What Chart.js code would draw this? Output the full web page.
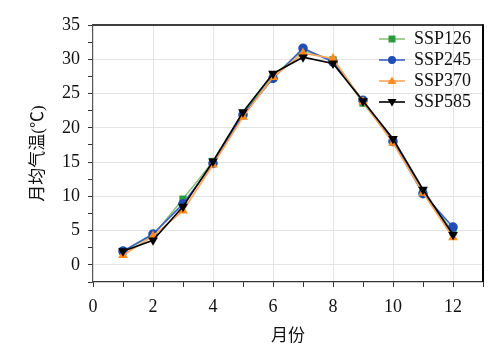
<!DOCTYPE html>
<html>
<head>
<meta charset="utf-8">
<script src="https://cdn.jsdelivr.net/npm/chart.js@4"></script>
<style>
  html, body { margin: 0; padding: 0; background: #fff; }
  #wrap { width: 492px; height: 354px; }
  .preload { position: absolute; left: -999px; top: 0; font-family: 'Liberation Serif'; font-size: 18px; }
</style>
</head>
<body>
<div class="preload">SSP126 0123456789</div>
<div id="wrap"><canvas id="chart-temp" width="492" height="354"></canvas></div>
<script>
// 月均气温 - four SSP scenarios

const months = [1, 2, 3, 4, 5, 6, 7, 8, 9, 10, 11, 12];
const ssp126 = [2.0, 4.3, 9.6, 15.1, 22.1, 27.6, 31.3, 29.9, 23.6, 18.1, 10.7, 4.8];
const ssp245 = [2.0, 4.5, 8.9, 14.8, 21.9, 27.2, 31.6, 29.6, 24.0, 18.0, 10.4, 5.5];
const ssp370 = [1.4, 4.2, 7.9, 14.6, 21.6, 27.4, 30.9, 30.1, 23.8, 17.8, 10.5, 4.0];
const ssp585 = [2.0, 3.6, 8.5, 15.1, 22.3, 27.9, 30.3, 29.4, 23.9, 18.4, 11.0, 4.4];

const seriesNames = ['SSP126', 'SSP245', 'SSP370', 'SSP585'];
const xTicks = [0, 2, 4, 6, 8, 10, 12];
const yTicks = [0, 5, 10, 15, 20, 25, 30, 35];

const serif = "'Liberation Serif', 'Noto Sans CJK SC', serif";

const styles = [
    { line: '#8cc47c', marker: '#2e9a3e', shape: 'rect', rot: 0 },
    { line: '#3a62c2', marker: '#1f4fb5', shape: 'circle', rot: 0 },
    { line: '#ffa55a', marker: '#ff8a1e', shape: 'triangle', rot: 0 },
    { line: '#000000', marker: '#000000', shape: 'triangle', rot: 180 },
];

// small line+marker icons for the legend
function makeIcon(s) {
    const c = document.createElement('canvas');
    c.width = 26; c.height = 12;
    const g = c.getContext('2d');
    g.strokeStyle = s.line;
    g.lineWidth = 1.6;
    g.beginPath(); g.moveTo(0, 6); g.lineTo(26, 6); g.stroke();
    g.fillStyle = s.marker;
    g.beginPath();
    if (s.shape === 'rect') {
        g.rect(9.5, 2.5, 7, 7);
    } else if (s.shape === 'circle') {
        g.arc(13, 6, 4, 0, Math.PI * 2);
    } else if (s.rot === 0) {
        g.moveTo(13, 1.5); g.lineTo(17.5, 9); g.lineTo(8.5, 9); g.closePath();
    } else {
        g.moveTo(13, 10.5); g.lineTo(17.5, 3); g.lineTo(8.5, 3); g.closePath();
    }
    g.fill();
    return c;
}

// place the legend inside the plot, top right
const legendPlace = {
    id: 'legendPlace',
    afterLayout(chart) {
        const lg = chart.legend;
        if (!lg) return;
        const w = lg.width, h = lg.height;
        lg.left = 376; lg.top = 27;
        lg.right = 376 + w; lg.bottom = 27 + h;
    },
};

// top and right frame lines
const frame = {
    id: 'frame',
    afterDraw(chart) {
        const { ctx, chartArea: a } = chart;
        ctx.save();
        ctx.strokeStyle = '#000';
        ctx.lineWidth = 1.5;
        ctx.beginPath(); ctx.moveTo(a.left, a.top); ctx.lineTo(a.right, a.top); ctx.stroke();
        ctx.lineWidth = 2;
        ctx.beginPath(); ctx.moveTo(a.right, a.top - 0.75); ctx.lineTo(a.right, a.bottom); ctx.stroke();
        ctx.restore();
    },
};

let tempChart = null;

function initTempChart() {
    const icons = styles.map(makeIcon);
    const allData = [ssp126, ssp245, ssp370, ssp585];
    const datasets = allData.map((vals, i) => ({
        label: seriesNames[i],
        data: months.map((m, j) => ({ x: m, y: vals[j] })),
        borderColor: styles[i].line,
        backgroundColor: styles[i].marker,
        pointBackgroundColor: styles[i].marker,
        pointBorderColor: styles[i].marker,
        pointStyle: styles[i].shape,
        pointRotation: styles[i].rot,
        pointRadius: 4,
        borderWidth: 1.6,
        tension: 0,
        order: 3 - i,
    }));

    if (tempChart) tempChart.destroy();
    tempChart = new Chart(document.getElementById('chart-temp'), {
        type: 'line',
        data: { datasets },
        plugins: [legendPlace, frame],
        options: {
            responsive: false,
            animation: false,
            layout: { padding: { top: 25, right: 9, left: 0, bottom: 0 } },
            plugins: {
                tooltip: { enabled: false },
                legend: {
                    position: 'chartArea',
                    align: 'start',
                    labels: {
                        color: '#111',
                        font: { family: serif, size: 18 },
                        usePointStyle: true,
                        pointStyleWidth: 26,
                        padding: 3,
                        generateLabels(chart) {
                            const items = Chart.defaults.plugins.legend.labels.generateLabels(chart);
                            items.forEach(it => { it.pointStyle = icons[it.datasetIndex]; it.rotation = 0; });
                            return items.sort((a, b) => a.datasetIndex - b.datasetIndex);
                        },
                    },
                },
            },
            scales: {
                x: {
                    type: 'linear',
                    min: 0,
                    max: 13,
                    afterFit(scale) { scale.height = 72; },
                    border: { color: '#333', width: 1.2 },
                    grid: {
                        color: ctx => (xTicks.includes(ctx.tick.value) && ctx.tick.value !== 0) ? '#e4e4e4' : 'rgba(0,0,0,0)',
                        tickColor: '#333',
                        tickLength: 5,
                    },
                    ticks: {
                        stepSize: 1,
                        color: '#111',
                        font: { family: serif, size: 18 },
                        padding: 9,
                        maxRotation: 0,
                        autoSkip: false,
                        callback: v => xTicks.includes(v) ? String(v) : '',
                    },
                    title: {
                        display: true,
                        text: '月份',
                        color: '#111',
                        font: { family: serif, size: 17 },
                        padding: { top: 0, bottom: 7 },
                    },
                },
                y: {
                    min: -2.5,
                    max: 35,
                    afterFit(scale) { scale.width = 93; },
                    border: { color: '#555', width: 1.2 },
                    grid: {
                        color: ctx => (yTicks.includes(ctx.tick.value) && ctx.tick.value !== 35) ? '#e4e4e4' : 'rgba(0,0,0,0)',
                        tickColor: '#333',
                        tickLength: 5,
                    },
                    ticks: {
                        stepSize: 2.5,
                        color: '#111',
                        font: { family: serif, size: 18 },
                        padding: 8,
                        autoSkip: false,
                        callback: v => yTicks.includes(v) ? String(v) : '',
                    },
                    title: {
                        display: true,
                        text: '月均气温(℃)',
                        color: '#111',
                        font: { family: serif, size: 17 },
                        padding: { top: 28, bottom: 0 },
                    },
                },
            },
        },
    });
}

if (document.fonts && document.fonts.load) {
    Promise.all([
        document.fonts.load("18px 'Liberation Serif'"),
        document.fonts.load("17px 'Noto Sans CJK SC'", '月份'),
    ]).then(initTempChart, initTempChart);
} else {
    initTempChart();
}
</script>
</body>
</html>
